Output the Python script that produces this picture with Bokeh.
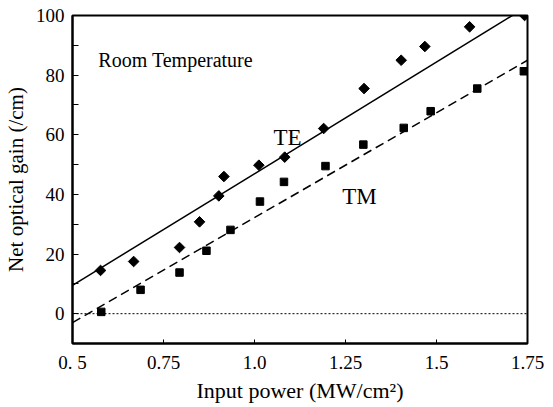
import math
from bokeh.plotting import figure
from bokeh.models import FixedTicker, Range1d, Span, Label
from bokeh.embed import file_html
from bokeh.resources import INLINE

# TE (diamonds) and TM (squares) measured net optical gain
te_x = [0.577, 0.668, 0.794, 0.849, 0.902, 0.916, 1.012, 1.083, 1.190, 1.301, 1.403, 1.468, 1.591, 1.742]
te_y = [14.5, 17.5, 22.2, 30.8, 39.5, 46.0, 49.8, 52.5, 62.1, 75.5, 85.0, 89.6, 96.2, 100.0]
tm_x = [0.579, 0.687, 0.794, 0.868, 0.934, 1.015, 1.081, 1.195, 1.299, 1.410, 1.484, 1.612, 1.740]
tm_y = [0.6, 8.0, 13.8, 21.1, 28.1, 37.6, 44.2, 49.5, 56.7, 62.3, 67.9, 75.5, 81.3]

# linear fits
te_fit_x = [0.5, 1.75]
te_fit_y = [9.5, 103.1]
tm_fit_x = [0.5, 1.75]
tm_fit_y = [-3.0, 85.0]

x_ticks = [0.5, 0.75, 1.0, 1.25, 1.5, 1.75]
x_tick_labels = ["0. 5", "0.75", "1.0", "1.25", "1.5", "1.75"]
y_ticks = [0, 20, 40, 60, 80, 100]
y_minor_ticks = [-10, 10, 30, 50, 70, 90]

FONT = "Liberation Serif"

p = figure(width=553, height=407, output_backend="svg", toolbar_location=None,
           x_range=Range1d(0.5, 1.75), y_range=Range1d(-10, 100),
           min_border_left=72, min_border_right=26, min_border_top=15, min_border_bottom=64)
p.background_fill_color = "white"
p.border_fill_color = "white"
p.xgrid.visible = False
p.ygrid.visible = False
p.outline_line_color = "black"
p.outline_line_width = 2

p.xaxis.ticker = FixedTicker(ticks=x_ticks)
p.xaxis.major_label_overrides = {t: s for t, s in zip(x_ticks, x_tick_labels)}
p.yaxis.ticker = FixedTicker(ticks=y_ticks, minor_ticks=y_minor_ticks)

for ax in (p.xaxis[0], p.yaxis[0]):
    ax.axis_line_width = 2
    ax.axis_line_color = "black"
    ax.major_tick_in = 6
    ax.major_tick_out = 0
    ax.minor_tick_in = 6
    ax.minor_tick_out = 0
    ax.major_tick_line_color = "black"
    ax.minor_tick_line_color = "black"
    ax.major_label_text_font = FONT
    ax.major_label_text_font_size = "19px"
    ax.major_label_text_color = "black"
    ax.axis_label_text_font = FONT
    ax.axis_label_text_font_style = "normal"
    ax.axis_label_text_color = "black"

p.xaxis.minor_tick_line_color = None
p.xaxis.major_tick_in = 4
p.xaxis.axis_label = "Input power (MW/cm\u00b2)"
p.yaxis.axis_label = "Net optical gain (/cm)"
p.xaxis.axis_label_text_font_size = "22px"
p.yaxis.axis_label_text_font_size = "21px"
p.xaxis.major_label_standoff = 8
p.yaxis.major_label_standoff = 8
p.xaxis.axis_label_standoff = 2
p.yaxis.axis_label_standoff = 5

p.add_layout(Span(location=0, dimension="width", line_color="black",
                  line_width=1, line_dash="2 2"))

p.line(te_fit_x, te_fit_y, line_color="black", line_width=1.5)
p.line(tm_fit_x, tm_fit_y, line_color="black", line_width=1.5, line_dash="9 5")

p.scatter(te_x, te_y, marker="square", angle=math.pi / 4, size=7.5,
          fill_color="black", line_color="black")
p.scatter(tm_x, tm_y, marker="square", size=7.5,
          fill_color="black", line_color="black")

p.add_layout(Label(x=0.571, y=85.2, text="Room Temperature", text_font=FONT,
                   text_font_size="20px", text_color="black", text_baseline="alphabetic"))
p.add_layout(Label(x=1.052, y=59.2, text="TE", text_font=FONT,
                   text_font_size="23px", text_color="black", text_baseline="alphabetic"))
p.add_layout(Label(x=1.241, y=39.2, text="TM", text_font=FONT,
                   text_font_size="23px", text_color="black", text_baseline="alphabetic"))

open("out.html", "w").write(file_html(p, INLINE))
